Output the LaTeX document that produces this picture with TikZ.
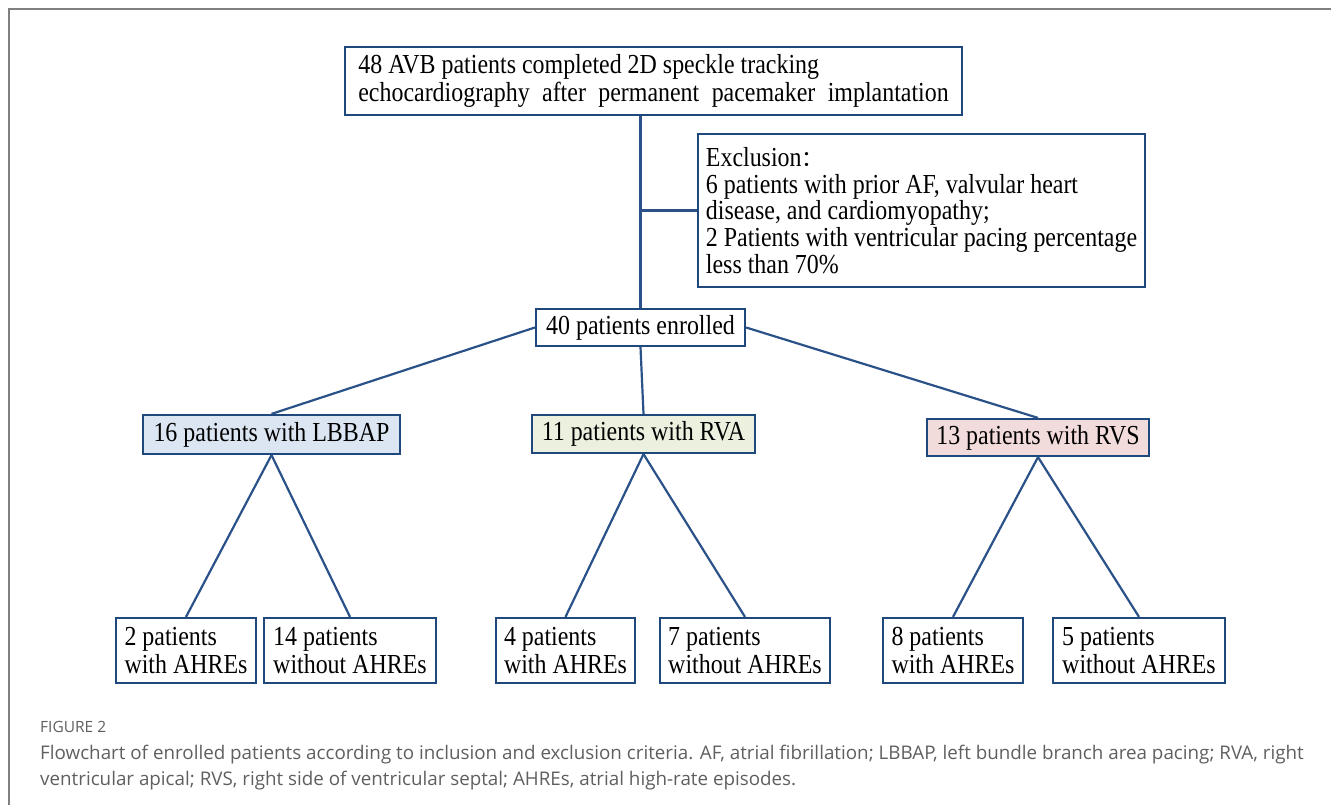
\documentclass[tikz,border=0pt]{standalone}
\usepackage{fontspec}
\setmainfont[FakeStretch=0.87]{Liberation Serif}
\newfontfamily\capfont{Open Sans}
\newfontfamily\cjk[Scale=0.8]{Noto Sans CJK SC}
\definecolor{boxblue}{HTML}{1F497D}
\definecolor{lineblue}{HTML}{2A5289}
\definecolor{fillblue}{HTML}{DCE6F2}
\definecolor{fillgreen}{HTML}{EBF1DE}
\definecolor{fillpink}{HTML}{F2DCDB}
\definecolor{capgray}{HTML}{5F5F5F}

\begin{document}
\begin{tikzpicture}[x=1pt,y=-1pt,
    box/.style={draw=boxblue,line width=2.2pt,inner xsep=5pt,inner ysep=0pt,
      align=left,font=\fontsize{27.5}{28}\selectfont},
    link/.style={draw=lineblue,line width=2.2pt}]
  \useasboundingbox (0,0) rectangle (1331,805);
  \draw[gray,line width=2pt] (9,805) -- (9,9) -- (1331,9);

  \node[box,minimum width=617pt,minimum height=68pt] (stc) at (653.5,81)
    {48 AVB patients completed 2D speckle tracking\\
     {\spaceskip=12.4pt echocardiography after permanent pacemaker implantation}};
  \node[box,minimum width=447pt,minimum height=153pt,font=\fontsize{27.5}{26.8}\selectfont] (excl) at (921.5,210.5)
    {Exclusion{\cjk ：}\\
     6 patients with prior AF, valvular heart\\
     disease, and cardiomyopathy;\\
     2 Patients with ventricular pacing percentage\\
     less than 70\%};
  \node[box,minimum width=209pt,minimum height=37pt] (enr) at (640.5,327.5) {40 patients enrolled};

  \node[box,fill=fillblue,minimum width=257pt,minimum height=39pt] (lbbap) at (271.5,434.5) {16 patients with LBBAP};
  \node[box,fill=fillgreen,minimum width=223pt,minimum height=38pt] (rva) at (643.5,434) {11 patients with RVA};
  \node[box,fill=fillpink,minimum width=222pt,minimum height=37pt] (rvs) at (1038,437.5) {13 patients with RVS};

  \node[box,minimum width=140pt,minimum height=65pt] (lbbapA) at (186,650.5) {2 patients\\with AHREs};
  \node[box,minimum width=172pt,minimum height=65pt] (lbbapN) at (350,650.5) {14 patients\\without AHREs};
  \node[box,minimum width=139pt,minimum height=65pt] (rvaA) at (565.5,650.5) {4 patients\\with AHREs};
  \node[box,minimum width=170pt,minimum height=65pt] (rvaN) at (745,650.5) {7 patients\\without AHREs};
  \node[box,minimum width=140pt,minimum height=65pt] (rvsA) at (953,650.5) {8 patients\\with AHREs};
  \node[box,minimum width=172pt,minimum height=65pt] (rvsN) at (1139,650.5) {5 patients\\without AHREs};

  \path[link] (enr.north) edge (enr.north |- stc.south)
              (excl.west) edge (excl.west -| enr.north)
              (enr.west) edge (lbbap.north)
              (enr.south) edge (rva.north)
              (enr.east) edge (rvs.north)
              (lbbap.south) edge (lbbapA.north) edge (lbbapN.north)
              (rva.south) edge (rvaA.north) edge (rvaN.north)
              (rvs.south) edge (rvsA.north) edge (rvsN.north);

  % caption
  \node[anchor=west,inner sep=0pt,text=capgray,font=\capfont\fontsize{15.5}{18}\selectfont] (fig) at (40,727) {FIGURE 2};
  \node[anchor=north west,inner sep=0pt,align=left,text=capgray,font=\capfont\fontsize{18.8}{26}\selectfont] (cap) at (40,745)
    {Flowchart of enrolled patients according to inclusion and exclusion criteria. AF, atrial fibrillation; LBBAP, left bundle branch area pacing; RVA, right\\
     ventricular apical; RVS, right side of ventricular septal; AHREs, atrial high-rate episodes.};
\end{tikzpicture}
\end{document}
